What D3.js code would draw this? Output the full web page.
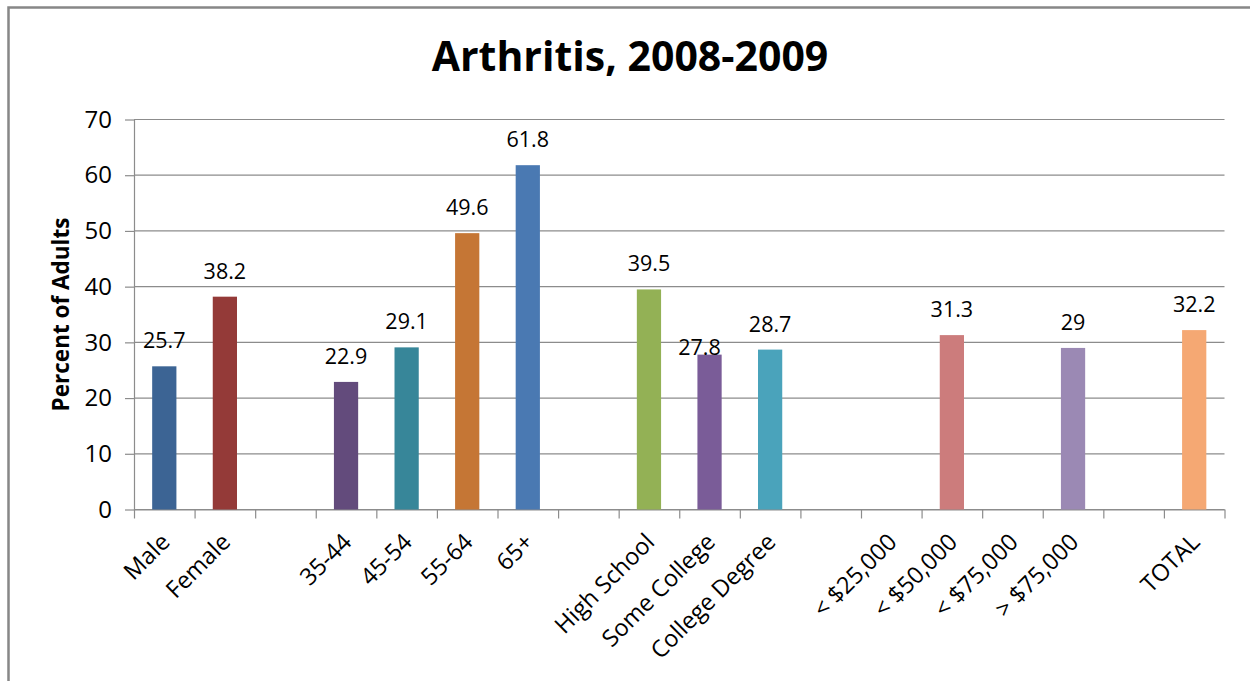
<!DOCTYPE html>
<html>
<head>
<meta charset="utf-8">
<script src="https://cdn.jsdelivr.net/npm/d3@7/dist/d3.min.js"></script>
<style>
  html, body { margin: 0; padding: 0; background: #fff; }
  svg { display: block; }
  text { font-family: "Open Sans", "Liberation Sans", sans-serif; fill: #000; }
</style>
</head>
<body>
<svg id="chart" width="1250" height="681"></svg>
<script>
// Arthritis prevalence by group, 2008-2009 (percent of adults).
// Empty names are spacer slots between groups; null means no bar.
const categories = ["Male", "Female", "", "35-44", "45-54", "55-64", "65+", "",
  "High School", "Some College", "College Degree", "",
  "< $25,000", "< $50,000", "< $75,000", "> $75,000", "", "TOTAL"];
const values = [25.7, 38.2, null, 22.9, 29.1, 49.6, 61.8, null,
  39.5, 27.8, 28.7, null,
  null, 31.3, null, 29, null, 32.2];
const barColors = ["#3c6494", "#943a38", null, "#634b7c", "#378699", "#c57635", "#4a79b2", null,
  "#93b155", "#7a5c98", "#4aa3bb", null,
  null, "#cc7c7c", null, "#9b89b4", null, "#f5a873"];
const yTicks = [0, 10, 20, 30, 40, 50, 60, 70];

const svg = d3.select("#chart");
const W = 1250, H = 681;
const plot = { left: 134, right: 1224.5, top: 119.5, bottom: 509.5 };

// outer frame of the chart area
svg.append("rect")
  .attr("x", 8.5).attr("y", 7.5)
  .attr("width", W + 20).attr("height", H + 20)
  .attr("fill", "#fff")
  .attr("stroke", "#878787").attr("stroke-width", 2.5);

const idx = d3.range(categories.length);
const x = d3.scaleBand()
  .domain(idx)
  .range([plot.left, plot.right])
  .paddingInner(0.6)
  .paddingOuter(0.3);
const slot = d3.scaleLinear()
  .domain([0, categories.length])
  .range([plot.left, plot.right]);
const y = d3.scaleLinear().domain([0, 70]).range([plot.bottom, plot.top]);

// horizontal gridlines
svg.append("g")
  .selectAll("line")
  .data(yTicks)
  .join("line")
  .attr("x1", plot.left).attr("x2", plot.right)
  .attr("y1", d => y(d)).attr("y2", d => y(d))
  .attr("stroke", "#8c8c8c").attr("stroke-width", 1.2);

// y axis
const yAxis = svg.append("g")
  .attr("transform", `translate(${plot.left},0)`)
  .call(d3.axisLeft(y).tickValues(yTicks).tickSize(9).tickPadding(13).tickSizeOuter(0));
yAxis.select(".domain").attr("stroke", "#8c8c8c").attr("stroke-width", 1.2);
yAxis.selectAll(".tick line").attr("stroke", "#8c8c8c").attr("stroke-width", 1.2);
yAxis.selectAll(".tick text")
  .style("font-family", "'Open Sans', sans-serif")
  .style("font-size", "24px").attr("fill", "#000");

// x axis: tick marks sit on slot boundaries
const xAxis = svg.append("g")
  .attr("transform", `translate(0,${plot.bottom})`)
  .call(d3.axisBottom(slot).tickValues(d3.range(categories.length + 1))
    .tickSize(9).tickSizeOuter(0).tickFormat(""));
xAxis.select(".domain").attr("stroke", "#8c8c8c").attr("stroke-width", 1.2);
xAxis.selectAll(".tick line").attr("stroke", "#8c8c8c").attr("stroke-width", 1.2);

// rotated category labels
svg.append("g")
  .selectAll("text")
  .data(idx.filter(i => categories[i] !== ""))
  .join("text")
  .attr("transform", i => `translate(${x(i) + x.bandwidth() / 2 + 7},${plot.bottom + 34}) rotate(-45)`)
  .attr("text-anchor", "end")
  .style("font-size", "23.5px")
  .text(i => categories[i]);

// bars
const withValue = idx.filter(i => values[i] !== null);
svg.append("g")
  .selectAll("rect")
  .data(withValue)
  .join("rect")
  .attr("x", i => x(i))
  .attr("width", x.bandwidth())
  .attr("y", i => y(values[i]))
  .attr("height", i => y(0) - y(values[i]))
  .attr("fill", i => barColors[i]);

// value labels; the "Some College" label is nudged to clear its neighbour
const labelShift = { "Some College": [-10, 18] };
svg.append("g")
  .selectAll("text")
  .data(withValue)
  .join("text")
  .attr("x", i => x(i) + x.bandwidth() / 2 + (labelShift[categories[i]] || [0, 0])[0])
  .attr("y", i => y(values[i]) - 18 + (labelShift[categories[i]] || [0, 0])[1])
  .attr("text-anchor", "middle")
  .style("font-size", "21.5px")
  .text(i => values[i]);

// title
svg.append("text")
  .attr("x", 630).attr("y", 71)
  .attr("text-anchor", "middle")
  .style("font-size", "41px").style("font-weight", "bold")
  .text("Arthritis, 2008-2009");

// y axis title
svg.append("text")
  .attr("transform", `translate(69,${(plot.top + plot.bottom) / 2}) rotate(-90)`)
  .attr("text-anchor", "middle")
  .style("font-size", "22.5px").style("font-weight", "bold")
  .text("Percent of Adults");
</script>
</body>
</html>
